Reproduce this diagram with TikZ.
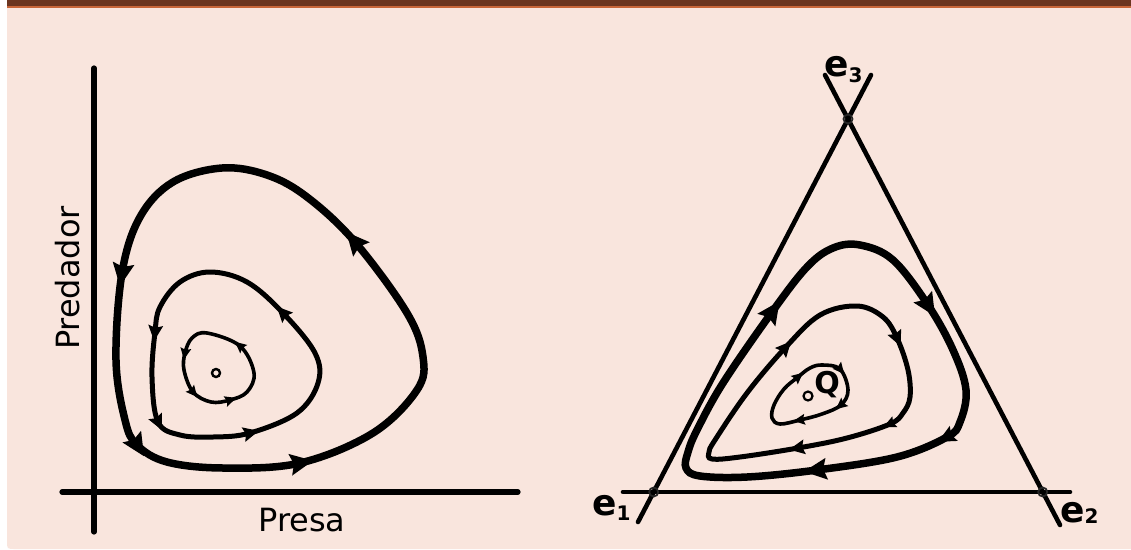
\documentclass[tikz,border=0pt]{standalone}
\usepackage{fontspec}
\setmainfont{DejaVu Sans}
\definecolor{bgpeach}{HTML}{F9E5DD}
\definecolor{barbrown}{HTML}{6B3520}
\definecolor{barline}{HTML}{C8663A}
\newcommand{\subfnt}{\fontsize{20}{20}\selectfont}
\begin{document}
\begin{tikzpicture}[x=1pt,y=-1pt,
  axis/.style={line width=5.2pt, line cap=round},
  tri/.style={line width=4.6pt, line cap=round},
  orbA/.style={line width=7.5pt},
  orbB/.style={line width=5pt},
  orbC/.style={line width=3.6pt},
  fix/.style={line width=1.8pt, black!85},
  axlabel/.style={inner sep=0pt, font=\fontsize{32}{36}\selectfont},
  elabel/.style={inner sep=0pt, font=\fontsize{36}{40}\selectfont\bfseries},
  arrowhead/.pic={\fill (0.6,0) -- (-0.45,0.5) -- (-0.28,0) -- (-0.45,-0.5) -- cycle;}
]
% background
\path[use as bounding box] (0,0) rectangle (1131,549);
\fill[white] (0,0) rectangle (1131,549);
\fill[bgpeach] (7,0) -- (1131,0) -- (1131,549) -- (15,549) .. controls (7,549) .. (7,541) -- cycle;
\fill[barbrown] (7,0) rectangle (1131,6);
\fill[barline] (7,6) rectangle (1131,7.5);

% ---------- left panel ----------
\coordinate (yt) at (94,68);
\coordinate (yb) at (94,532);
\coordinate (xl) at (62,492);
\coordinate (xr) at (518,492);
\draw[axis] (yb) -- (yt);
\draw[axis] (xl) -- (xr);
\node[axlabel, anchor=base] (presa) at (302,531) {Presa};
\node[axlabel, anchor=base, rotate=90] (pred) at (79,278) {Predador};

\draw[orbA] plot[smooth cycle, tension=0.6] coordinates {(222,168) (173,182) (140,217) (122,273) (116,360) (125,420) (137,445) (167,462) (223,468) (300,463) (373,433) (417,390) (423,357) (407,313) (355,242) (307,197) (267,175)};
\pic[rotate=-99, scale=22] at (122,273) {arrowhead};
\pic[rotate=-58, scale=22] at (137,445) {arrowhead};
\pic[rotate=10, scale=22] at (300,463) {arrowhead};
\pic[rotate=131, scale=22] at (355,242) {arrowhead};

\draw[orbB] plot[smooth cycle, tension=0.6] coordinates {(210,272) (180,282) (160,307) (155,332) (152,377) (158,422) (180,435) (213,437) (250,433) (297,413) (318,383) (315,353) (283,313) (247,282)};
\pic[rotate=-96, scale=15] at (155,332) {arrowhead};
\pic[rotate=-64, scale=15] at (158,422) {arrowhead};
\pic[rotate=14, scale=15] at (250,433) {arrowhead};
\pic[rotate=134, scale=15] at (283,313) {arrowhead};

\draw[orbC] plot[smooth cycle, tension=0.6] coordinates {(207,333) (240,346) (254,373) (247,392) (230,400) (211,402) (193,392) (184,370) (185,353) (192,338)};
\pic[rotate=140, scale=11] at (240,346) {arrowhead};
\pic[rotate=18, scale=11] at (230,400) {arrowhead};
\pic[rotate=-50, scale=11] at (193,392) {arrowhead};
\pic[rotate=-100, scale=11] at (185,353) {arrowhead};

\draw[line width=2.4pt] (216,373) circle[radius=4];

% ---------- right panel ----------
\coordinate (lt) at (871,75);
\coordinate (lb) at (638,522);
\coordinate (rt) at (825,75);
\coordinate (rb) at (1060,525);
\coordinate (bl) at (623,492);
\coordinate (br) at (1070,492);
\coordinate (E1) at (653.7,492);
\coordinate (E2) at (1042.7,492);
\coordinate (E3) at (848,119);
\draw[tri] (lt) -- (lb);
\draw[tri] (rt) -- (rb);
\draw[tri] (bl) -- (br);
\draw[fix] (E1) circle[radius=4.5];
\draw[fix] (E2) circle[radius=4.5];
\draw[fix] (E3) circle[radius=4.5];

\node[elabel, anchor=base west] (e1) at (592,515) {e\raisebox{-5pt}{\subfnt 1}};
\node[elabel, anchor=base west] (e2) at (1060,522) {e\raisebox{-1pt}{\subfnt 2}};
\node[elabel, anchor=base west] (e3) at (824,76) {e\raisebox{-6pt}{\subfnt 3}};

\draw[orbA] plot[smooth cycle, tension=0.6] coordinates {(860,245) (893,260) (928,305) (953,350) (966,390) (960,422) (947,437) (897,457) (817,470) (747,477) (700,476) (686,468) (688,452) (697,430) (723,383) (772,312) (807,267) (833,248)};
\pic[rotate=-58, scale=22] at (928,305) {arrowhead};
\pic[rotate=-152, scale=17] at (947,437) {arrowhead};
\pic[rotate=187, scale=22] at (817,470) {arrowhead};
\pic[rotate=55, scale=22] at (772,312) {arrowhead};

\draw[orbB] plot[smooth cycle, tension=0.6] coordinates {(857,306) (883,317) (897,338) (908,370) (910,397) (903,413) (890,424) (847,438) (798,448) (740,457) (712,459) (709,452) (715,440) (747,393) (785,348) (820,315)};
\pic[rotate=-66, scale=15] at (897,338) {arrowhead};
\pic[rotate=-155, scale=12] at (890,424) {arrowhead};
\pic[rotate=-170, scale=15] at (798,448) {arrowhead};
\pic[rotate=48, scale=15] at (785,348) {arrowhead};

\draw[orbC] plot[smooth cycle, tension=0.6] coordinates {(822,365) (840,369) (848,390) (841,405) (822,414) (800,420) (780,424) (772,418) (774,405) (784,389) (798,377) (810,368)};
\pic[rotate=-50, scale=11] at (840,369) {arrowhead};
\pic[rotate=-140, scale=11] at (841,405) {arrowhead};
\pic[rotate=188, scale=11] at (800,420) {arrowhead};
\pic[rotate=40, scale=11] at (798,377) {arrowhead};

\draw[line width=2.2pt] (808,396) circle[radius=4.5];
\node[inner sep=0pt, anchor=base, font=\fontsize{30}{32}\selectfont\bfseries] (q) at (827,393) {Q};
\end{tikzpicture}
\end{document}
